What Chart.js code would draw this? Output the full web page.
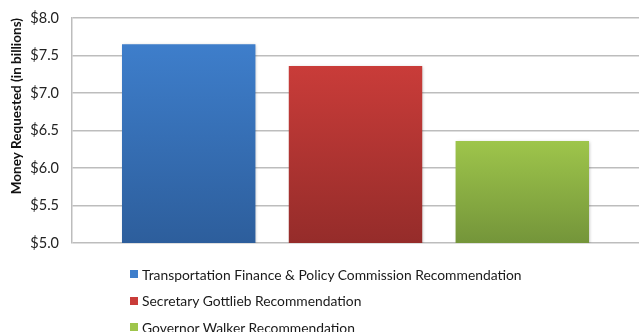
<!DOCTYPE html>
<html>
<head>
<meta charset="utf-8">
<script src="https://cdn.jsdelivr.net/npm/chart.js@4/dist/chart.umd.min.js"></script>
<style>
  html, body { margin: 0; padding: 0; background: #fff; }
  #wrap { position: relative; width: 641px; height: 332px; overflow: hidden; }
  #c { position: absolute; left: 0; top: 0; }
  #legend { position: absolute; left: 130px; top: 261px; font-family: Lato, "Open Sans", sans-serif; font-size: 13.85px; color: #1a1a1a; }
  .item { height: 26.5px; display: flex; align-items: center; white-space: nowrap; }
  .box { width: 8px; height: 8px; margin-right: 4px; flex: none; }
</style>
</head>
<body>
<div id="wrap">
  <canvas id="c" width="641" height="265"></canvas>
  <div id="legend"></div>
</div>
<script>
// Budget requests compared, in billions of dollars
const seriesNames = [
  "Transportation Finance & Policy Commission Recommendation",
  "Secretary Gottlieb Recommendation",
  "Governor Walker Recommendation"
];
const requested = [7.65, 7.36, 6.36];
const yTicks = [5.0, 5.5, 6.0, 6.5, 7.0, 7.5, 8.0];
const categories = [""];

// top / bottom colours of each bar's vertical gradient
const topColors = ["#3E7ECB", "#C93C39", "#9EC54B"];
const bottomColors = ["#2D5E9C", "#952C2A", "#74953A"];

function gradientFor(i) {
  return function (ctx) {
    const area = ctx.chart.chartArea;
    if (!area) return topColors[i];
    const y = ctx.chart.scales.y;
    const g = ctx.chart.ctx.createLinearGradient(0, y.getPixelForValue(requested[i]), 0, area.bottom);
    g.addColorStop(0, topColors[i]);
    g.addColorStop(1, bottomColors[i]);
    return g;
  };
}

const datasets = seriesNames.map((name, i) => ({
  label: name,
  data: [requested[i]],
  backgroundColor: gradientFor(i),
  borderWidth: 0,
  categoryPercentage: 0.8825,
  barPercentage: 0.8
}));

// soft drop shadow under the bars
const barShadow = {
  id: "barShadow",
  beforeDatasetsDraw(chart) {
    const c = chart.ctx;
    c.save();
    c.shadowColor = "rgba(0,0,0,0.25)";
    c.shadowBlur = 3;
    c.shadowOffsetX = 1;
    c.shadowOffsetY = 1;
  },
  afterDatasetsDraw(chart) { chart.ctx.restore(); }
};

const chart = new Chart(document.getElementById("c"), {
  type: "bar",
  data: { labels: categories, datasets },
  plugins: [barShadow],
  options: {
    responsive: false,
    animation: false,
    layout: { padding: { top: 18, right: 2, bottom: 22, left: 9 } },
    plugins: { legend: { display: false }, tooltip: { enabled: false } },
    scales: {
      x: {
        display: false,
        grid: { display: false }
      },
      y: {
        min: 5.0,
        max: 8.0,
        afterBuildTicks(scale) { scale.ticks = yTicks.map(v => ({ value: v })); },
        afterFit(scale) {
          scale.width = 63;
          scale.paddingTop = 0;
          scale.paddingBottom = 0;
        },
        ticks: {
          padding: 13,
          color: "#222",
          font: { family: "Lato, 'Open Sans', sans-serif", size: 14.5 },
          callback: v => "$" + Number(v).toFixed(1)
        },
        grid: { color: "#BDBDBD", lineWidth: 1.5, drawTicks: false },
        border: { display: true, color: "#BDBDBD", width: 1.5 },
        title: {
          display: true,
          align: "end",
          text: "Money Requested (in billions)",
          color: "#111",
          padding: { top: 0, bottom: 0 },
          font: { family: "Lato, 'Open Sans', sans-serif", size: 13.5, weight: "bold" }
        }
      }
    }
  }
});

// legend list beneath the plot
const legend = document.getElementById("legend");
seriesNames.forEach((name, i) => {
  const row = document.createElement("div");
  row.className = "item";
  const box = document.createElement("span");
  box.className = "box";
  box.style.background = topColors[i];
  const txt = document.createElement("span");
  txt.textContent = name;
  row.appendChild(box);
  row.appendChild(txt);
  legend.appendChild(row);
});
</script>
</body>
</html>
